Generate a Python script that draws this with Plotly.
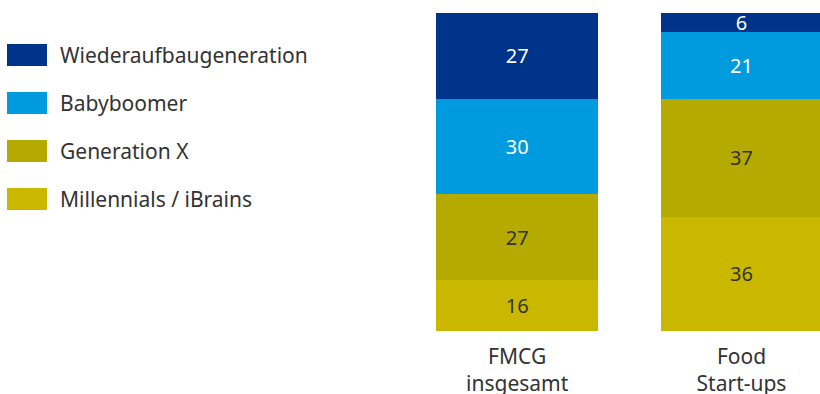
import plotly.graph_objects as go

categories = ["FMCG<br>insgesamt", "Food<br>Start-ups"]
series_names = ["Wiederaufbaugeneration", "Babyboomer", "Generation X", "Millennials / iBrains"]
wiederaufbau = [27, 6]
babyboomer = [30, 21]
generation_x = [27, 37]
millennials = [16, 36]

colors = {"Wiederaufbaugeneration": "#00338A", "Babyboomer": "#009ADE",
          "Generation X": "#B5AA00", "Millennials / iBrains": "#CAB800"}
text_colors = {"Wiederaufbaugeneration": "white", "Babyboomer": "white",
               "Generation X": "#333333", "Millennials / iBrains": "#333333"}
values = {"Wiederaufbaugeneration": wiederaufbau, "Babyboomer": babyboomer,
          "Generation X": generation_x, "Millennials / iBrains": millennials}

FONT = "Noto Sans"
fig = go.Figure()
for name in reversed(series_names):
    fig.add_trace(go.Bar(
        x=categories, y=values[name], name=name,
        marker=dict(color=colors[name], line=dict(width=0)),
        text=values[name], texttemplate="%{text}",
        textposition="inside", insidetextanchor="middle", textangle=0,
        textfont=dict(color=text_colors[name], size=20, family=FONT),
        showlegend=False, hoverinfo="skip", width=0.72,
    ))

W, H = 820, 394
ml, mr, mt, mb = 405, 0, 13, 63
pw, ph = W - ml - mr, H - mt - mb

def px_to_paper(x, y):
    return (x - ml) / pw, (H - mb - y) / ph

shapes, annotations = [], []
row_y = [55, 103, 151, 199]
for name, cy in zip(series_names, row_y):
    x0, y0 = px_to_paper(7, cy - 11)
    x1, y1 = px_to_paper(47, cy + 11)
    shapes.append(dict(type="rect", xref="paper", yref="paper", x0=x0, x1=x1, y0=y1, y1=y0,
                       fillcolor=colors[name], line=dict(width=0)))
    tx, ty = px_to_paper(58, cy)
    annotations.append(dict(xref="paper", yref="paper", x=tx, y=ty, text=name, showarrow=False,
                            xanchor="left", yanchor="middle",
                            font=dict(size=21, color="#333333", family=FONT)))

fig.update_layout(
    width=W, height=H, margin=dict(l=ml, r=mr, t=mt, b=mb, autoexpand=False),
    barmode="stack", bargap=0.28,
    plot_bgcolor="white", paper_bgcolor="white",
    font=dict(family=FONT, size=20, color="#333333"),
    uniformtext=dict(minsize=20, mode="show"),
    xaxis=dict(range=[-0.5, 1.35], showgrid=False, showline=False, zeroline=False,
               ticks="", ticklabelstandoff=11, automargin=False,
               tickfont=dict(size=21, color="#333333", family=FONT)),
    yaxis=dict(range=[0, 100], visible=False, automargin=False),
    shapes=shapes, annotations=annotations,
)
fig.write_html("out.html")
